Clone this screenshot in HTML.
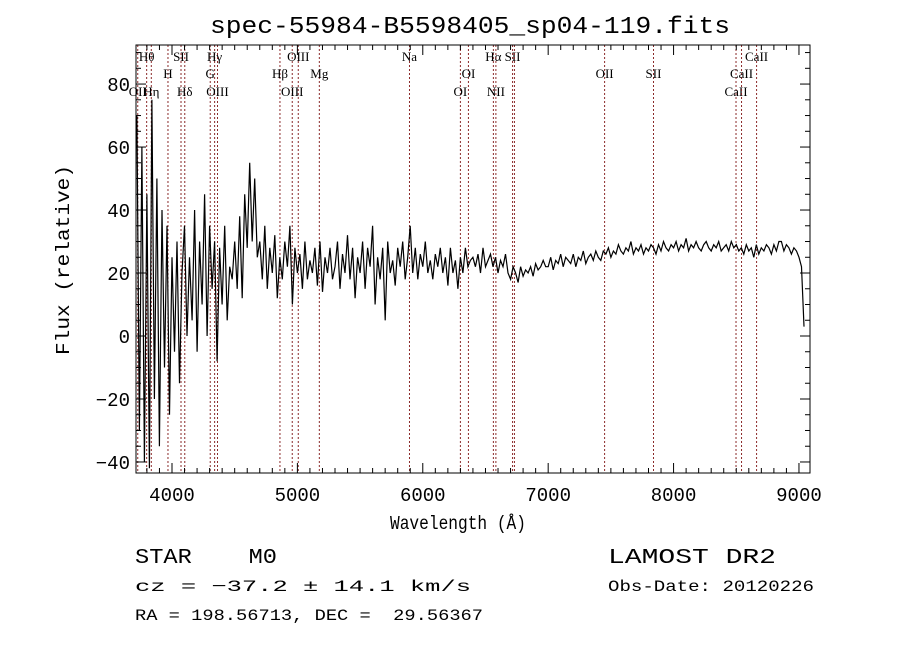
<!DOCTYPE html>
<html><head><meta charset="utf-8"><style>
body{margin:0;background:#fff;}
svg{display:block;}
text{font-family:"Liberation Mono",monospace;fill:#000;white-space:pre;}
.ll{font-family:"Liberation Serif",serif;font-size:13px;}
</style></head><body>
<svg id="chart" width="900" height="649" viewBox="0 0 900 649" xmlns="http://www.w3.org/2000/svg" xml:space="preserve">
<defs><clipPath id="pc"><rect x="136" y="45" width="674" height="428"/></clipPath></defs>
<rect width="900" height="649" fill="#fff"/>
<text x="470" y="33" text-anchor="middle" font-size="24" textLength="520" lengthAdjust="spacingAndGlyphs">spec-55984-B5598405_sp04-119.fits</text>
<text transform="translate(69,260) rotate(-90)" text-anchor="middle" font-size="19" textLength="190" lengthAdjust="spacingAndGlyphs">Flux (relative)</text>
<text x="458" y="529" text-anchor="middle" font-size="19" textLength="136" lengthAdjust="spacingAndGlyphs">Wavelength (Å)</text>
<g id="lines"></g>
<g id="ticks"></g>
<path id="spec" fill="none" stroke="#000" stroke-width="1.2" clip-path="url(#pc)"/>
<rect x="136" y="45" width="674" height="428" fill="none" stroke="#000" stroke-width="1"/>
<text x="135" y="563" font-size="21" textLength="142" lengthAdjust="spacingAndGlyphs">STAR    M0</text>
<text x="135" y="591" font-size="16" textLength="336" lengthAdjust="spacingAndGlyphs">cz = −37.2 ± 14.1 km/s</text>
<text x="135" y="620" font-size="16" textLength="348" lengthAdjust="spacingAndGlyphs">RA = 198.56713, DEC =  29.56367</text>
<text x="608" y="563" font-size="21" textLength="168" lengthAdjust="spacingAndGlyphs">LAMOST DR2</text>
<text x="608" y="591" font-size="16" textLength="206" lengthAdjust="spacingAndGlyphs">Obs-Date: 20120226</text>
</svg>
<script>
const xTicks=[4000,5000,6000,7000,8000,9000];
const yTicks=[-40,-20,0,20,40,60,80];
const lineWaves=[3727,3798,3835,3968,4072,4102,4305,4340,4363,4861,4959,5007,5175,5894,6300,6364,6563,6583,6716,6731,7450,7840,8498,8542,8662];
const lineLabels=["OII","Hθ","Hη","H","SII","Hδ","G","Hγ","OIII","Hβ","OIII","OIII","Mg","Na","OI","OI","Hα","NII","SII","","OII","SII","CaII","CaII","CaII"];
const lineRows=[2,0,2,1,0,2,1,0,2,1,2,0,1,0,2,1,0,2,0,0,1,1,2,1,0];
const specStart=3720, specStep=20;
const specFlux=[70,-30,60,-40,45,-42,75,-20,50,-35,40,-10,35,-25,25,-5,30,-15,20,
35,0,25,5,40,-5,30,10,45,0,35,15,30,-8,28,10,35,5,22,18,30,15,38,12,45,28,55,30,50,25,
30,18,35,15,28,20,32,12,25,18,30,22,35,10,28,20,26,15,30,18,24,20,28,16,30,14,25,20,28,18,
22,30,15,26,20,32,18,28,12,25,20,30,15,28,22,35,10,25,18,28,5,30,20,24,16,28,22,30,18,25,
35,20,28,18,26,22,30,20,24,18,26,22,28,20,25,16,28,20,24,15,
25,20,28,22,24,25,22,26,20,28,22,24,26,22,25,20,24,22,26,20,
18,22,20,17,22,19,21,20,22,19,23,21,22,24,22,
22,25,21,24,23,26,22,25,24,23,26,22,25,24,27,23,25,26,24,27,
25,24,27,26,28,25,27,26,29,27,26,28,27,30,26,28,27,29,26,28,
27,29,28,26,29,27,30,28,27,29,28,30,27,29,28,31,27,29,28,30,
28,27,29,30,28,27,29,28,30,27,28,29,27,30,28,29,27,28,26,29,
27,28,25,29,26,28,27,29,28,26,29,27,30,
30,27,29,28,26,28,27,25,22,3];
const L=136,R=810,T=45,B=473;
const X0=3713,X1=9088,Y0=-43.5,Y1=92.4;
const sx=w=>L+(w-X0)/(X1-X0)*(R-L);
const sy=v=>B-(v-Y0)/(Y1-Y0)*(B-T);
const NS="http://www.w3.org/2000/svg";
const lg=document.getElementById('lines');
const rowY=[61,78,96];
lineWaves.forEach((w,i)=>{
  const x=sx(w);
  const ln=document.createElementNS(NS,'line');
  
  
  ln.setAttribute('x1',x);ln.setAttribute('x2',x);ln.setAttribute('y1',T);ln.setAttribute('y2',B);
  ln.setAttribute('stroke','#8b2a2a');ln.setAttribute('stroke-width','1');ln.setAttribute('stroke-dasharray','2,2');
  lg.appendChild(ln);
  if(lineLabels[i]){
    const t=document.createElementNS(NS,'text');
    
    
    t.setAttribute('class','ll');t.setAttribute('x',x);t.setAttribute('y',rowY[lineRows[i]]);
    t.setAttribute('text-anchor','middle');t.textContent=lineLabels[i];
    lg.appendChild(t);
  }
});
const tg=document.getElementById('ticks');
function tick(x1,y1,x2,y2){const l=document.createElementNS(NS,'line');
  
  
  l.setAttribute('x1',x1);l.setAttribute('y1',y1);l.setAttribute('x2',x2);l.setAttribute('y2',y2);l.setAttribute('stroke','#000');tg.appendChild(l);}
for(let w=3800;w<=9000;w+=100){const x=sx(w);const len=(w%1000===0)?10:5;tick(x,B,x,B-len);tick(x,T,x,T+len);}
for(let v=-40;v<=90;v+=5){const y=sy(v);const len=(v%20===0)?10:5;tick(L,y,L+len,y);tick(R,y,R-len,y);}
xTicks.forEach(w=>{const t=document.createElementNS(NS,'text');
  
  
  t.setAttribute('x',sx(w));t.setAttribute('y',B+28);t.setAttribute('text-anchor','middle');t.setAttribute('font-size','19');
  t.setAttribute('font-family','Liberation Sans, sans-serif');t.textContent=w;tg.appendChild(t);});
yTicks.forEach(v=>{const t=document.createElementNS(NS,'text');
  
  
  t.setAttribute('x',L-6);t.setAttribute('y',sy(v)+7);t.setAttribute('text-anchor','end');t.setAttribute('font-size','19');
  t.setAttribute('font-family','Liberation Sans, sans-serif');t.textContent=v<0?'−'+(-v):v;tg.appendChild(t);});
let d='';
specFlux.forEach((f,i)=>{const w=specStart+i*specStep;d+=(i?'L':'M')+sx(w).toFixed(1)+','+sy(f).toFixed(1);});
document.getElementById('spec').setAttribute('d',d);
</script>
</body></html>
